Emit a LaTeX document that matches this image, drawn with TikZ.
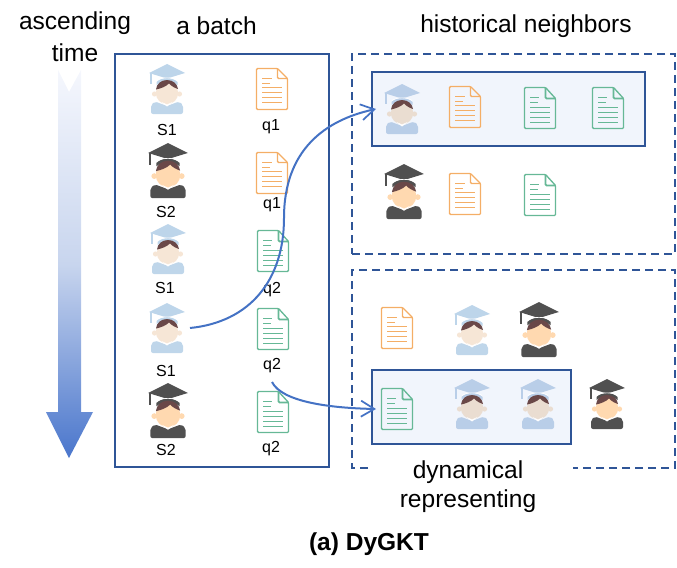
\documentclass[tikz,border=0pt]{standalone}
\usepackage{fontspec}
\setmainfont{Liberation Sans}
\usetikzlibrary{arrows.meta}
\definecolor{boxblue}{HTML}{2F5597}
\definecolor{arrowblue}{HTML}{4472C4}
\definecolor{boxfill}{HTML}{F1F5FC}
\definecolor{gtop}{HTML}{F5F7FD}
\definecolor{gmid}{HTML}{C8D5EE}
\definecolor{gbot}{HTML}{4A76CC}
\definecolor{capl}{HTML}{BDD5EA}
\definecolor{bodyl}{HTML}{BFD6EA}
\definecolor{facel}{HTML}{F6E6D6}
\definecolor{caph}{HTML}{B9CEE8}
\definecolor{faceh}{HTML}{EADDD1}
\definecolor{capd}{HTML}{505050}
\definecolor{faced}{HTML}{FFD9B0}
\definecolor{hairc}{HTML}{6A4848}
\definecolor{orangedoc}{HTML}{F4AE66}
\definecolor{greendoc}{HTML}{66B896}
\tikzset{
  big/.style={font=\fontsize{18.4pt}{22pt}\selectfont,align=center,inner sep=0pt},
  small/.style={font=\fontsize{12pt}{14pt}\selectfont,inner sep=0pt},
  title/.style={font=\fontsize{18.4pt}{22pt}\selectfont\bfseries,inner sep=0pt},
  solidbox/.style={draw=boxblue,line width=1.5pt,fill=boxfill,inner sep=0pt},
  batchbox/.style={draw=boxblue,line width=1.5pt,inner sep=0pt},
  dashbox/.style={draw=boxblue,line width=1.5pt,dash pattern=on 6pt off 3.75pt},
  flow/.style={draw=arrowblue,line width=1.5pt,-{Straight Barb[length=10pt,width=12pt,line width=1.3pt]}},
  pics/student/.style n args={3}{code={
    \fill[#1] (0,-29) -- (18,-20) -- (0,-14.5) -- (-18,-20) -- cycle;
    \fill[#1] (-17,-20) rectangle (-15.4,-9);
    \fill[#1] (-10.5,-11) .. controls (-5,-16.5) and (5,-16.5) .. (10.5,-11) -- (10.5,-8) .. controls (5,-12.5) and (-5,-12.5) .. (-10.5,-8) -- cycle;
    \draw[white,line width=.5pt] (-10,-12.5) .. controls (-5,-16) and (5,-16) .. (10,-12.5);
    \fill[#3] (-12.5,1) circle (2.6) (12.5,1) circle (2.6);
    \fill[#3] (0,0) circle (11.2);
    \fill[hairc] (-11,-3.5) .. controls (-10.5,-9) and (-6,-13) .. (0,-13) .. controls (6,-13) and (10.5,-9) .. (11,-4) .. controls (8,-5) and (4,-7) .. (2,-9.5) .. controls (-1,-6.5) and (-6,-4.5) .. (-11,-3.5) -- cycle;
    \fill[#2,rounded corners=1.5pt] (-16,21) -- (-16,12) -- (-12,8.5) -- (0,13) -- (12,8.5) -- (16,12) -- (16,21) -- cycle;
    \fill[#3] (-5,8.5) -- (5,8.5) -- (0,12.5) -- cycle;
    \fill[white] (-5.5,9) -- (0,13.5) -- (5.5,9) -- (0,11.5) -- cycle;
  }},
  pics/docp/.style={code={
    \draw[#1,line width=1pt,rounded corners=.8pt] (-15.5,-20.5) -- (5.5,-20.5) -- (15.5,-10.5) -- (15.5,20.5) -- (-15.5,20.5) -- cycle;
    \draw[#1,line width=1pt,rounded corners=.8pt] (5.5,-20.5) -- (5.5,-10.5) -- (15.5,-10.5);
    \draw[#1,line width=.75pt] (-10,-10.5) -- (0,-10.5) (-10,-5.5) -- (-2.5,-5.5) (-10,-1.5) -- (10,-1.5) (-10,3.5) -- (10,3.5) (-10,8.5) -- (10,8.5) (-10,13.5) -- (10,13.5);
  }},
  pics/docg/.style={code={
    \draw[#1,line width=1pt,rounded corners=.8pt] (-15.5,-20.5) -- (5.5,-20.5) -- (15.5,-9.5) -- (15.5,20.5) -- (-15.5,20.5) -- cycle;
    \draw[#1,line width=1.3pt,rounded corners=.8pt] (5.5,-20.5) -- (5.5,-9.5) -- (15.5,-9.5);
    \draw[#1,line width=.75pt] (-10,-10.5) -- (-1,-10.5) (-10,-5.5) -- (-2.5,-5.5) (-10,-0.5) -- (10,-0.5) (-10,4.5) -- (10,4.5) (-10,9.5) -- (10,9.5) (-10,14.5) -- (10,14.5);
  }}
}
\begin{document}
\begin{tikzpicture}[x=0.75pt,y=-0.75pt]
\useasboundingbox (0,0) rectangle (677,567);
% time arrow
\shade[top color=gtop,bottom color=gbot,middle color=gmid]
  (58,70) -- (69,92) -- (81,70) -- (81,412) -- (93,412) -- (69,458) -- (46,412) -- (58,412) -- cycle;
\node[big] (tasc) at (75,23) {ascending};
\node[big] (ttime) at (75,53) {time};
\node[big] (tbatch) at (216.5,26) {a batch};
\node[big] (thist) at (526,26) {historical neighbors};
% boxes
\node[batchbox,minimum width=160.5pt,minimum height=309.75pt] (batch) at (221.5,260.5) {};
\node[dashbox,minimum width=242.25pt,minimum height=150pt,inner sep=0pt] (hist) at (513.5,154) {};
\draw[dashbox] (368,468) -- (352,468) -- (352,270) -- (675,270) -- (675,468) -- (573,468);
\node[solidbox,minimum width=204.75pt,minimum height=55.5pt] (hbox) at (508.5,109) {};
\node[solidbox,minimum width=149.25pt,minimum height=55.5pt] (dbox) at (471.5,407) {};
\node[big] (tdyn) at (468,472) {dynamical};
\node[big] (trep) at (468,501) {representing};
\node[title] (ttitle) at (369,544) {(a) DyGKT};
% batch column
\pic (s1a) at (167,93) {student={capl}{bodyl}{facel}};
\pic[scale=1.1] (s2a) at (168,175) {student={capd}{capd}{faced}};
\pic (s1b) at (168,253) {student={capl}{bodyl}{facel}};
\pic (s1c) at (167,332) {student={capl}{bodyl}{facel}};
\pic[scale=1.1] (s2b) at (168,415) {student={capd}{capd}{faced}};
\pic (d1) at (272,89) {docp=orangedoc};
\pic (d2) at (272,173) {docp=orangedoc};
\pic (d3) at (273,251) {docg=greendoc};
\pic (d4) at (273,329) {docg=greendoc};
\pic (d5) at (273,412) {docg=greendoc};
\node[small] (l1) at (167,130) {S1};
\node[small] (l2) at (166,212) {S2};
\node[small] (l3) at (165,288) {S1};
\node[small] (l4) at (166,371) {S1};
\node[small] (l5) at (166,450) {S2};
\node[small] (m1) at (271,127) {q1};
\node[small] (m2) at (272,205) {q1};
\node[small] (m3) at (272,290) {q2};
\node[small] (m4) at (272,366) {q2};
\node[small] (m5) at (271,449) {q2};
% historical neighbours
\pic (h1) at (402,113) {student={caph}{caph}{faceh}};
\pic (h2) at (465,107) {docp=orangedoc};
\pic (h3) at (540,108) {docg=greendoc};
\pic (h4) at (608,108) {docg=greendoc};
\pic[scale=1.1] (h5) at (404,196) {student={capd}{capd}{faced}};
\pic (h6) at (465,194) {docp=orangedoc};
\pic (h7) at (540,195) {docg=greendoc};
% dynamical representing
\pic (r1) at (397,328) {docp=orangedoc};
\pic (r2) at (472,334) {student={capl}{bodyl}{facel}};
\pic[scale=1.1] (r3) at (539,334) {student={capd}{capd}{faced}};
\pic (r4) at (397,409) {docg=greendoc};
\pic (r5) at (472,408) {student={caph}{caph}{faceh}};
\pic (r6) at (538,408) {student={caph}{caph}{faceh}};
\pic (r7) at (607,408) {student={capd}{capd}{faced}};
% connectors
\coordinate (a1s) at (190,328);
\coordinate (a1e) at (376,109);
\coordinate (a2s) at (272,382);
\coordinate (a2e) at (376,409);
\draw[flow] (a1s) .. controls (250,322) and (284,280) .. (284,218) .. controls (284,150) and (325,120) .. (a1e);
\draw[flow] (a2s) .. controls (282,402) and (330,408) .. (a2e);
\end{tikzpicture}
\end{document}
